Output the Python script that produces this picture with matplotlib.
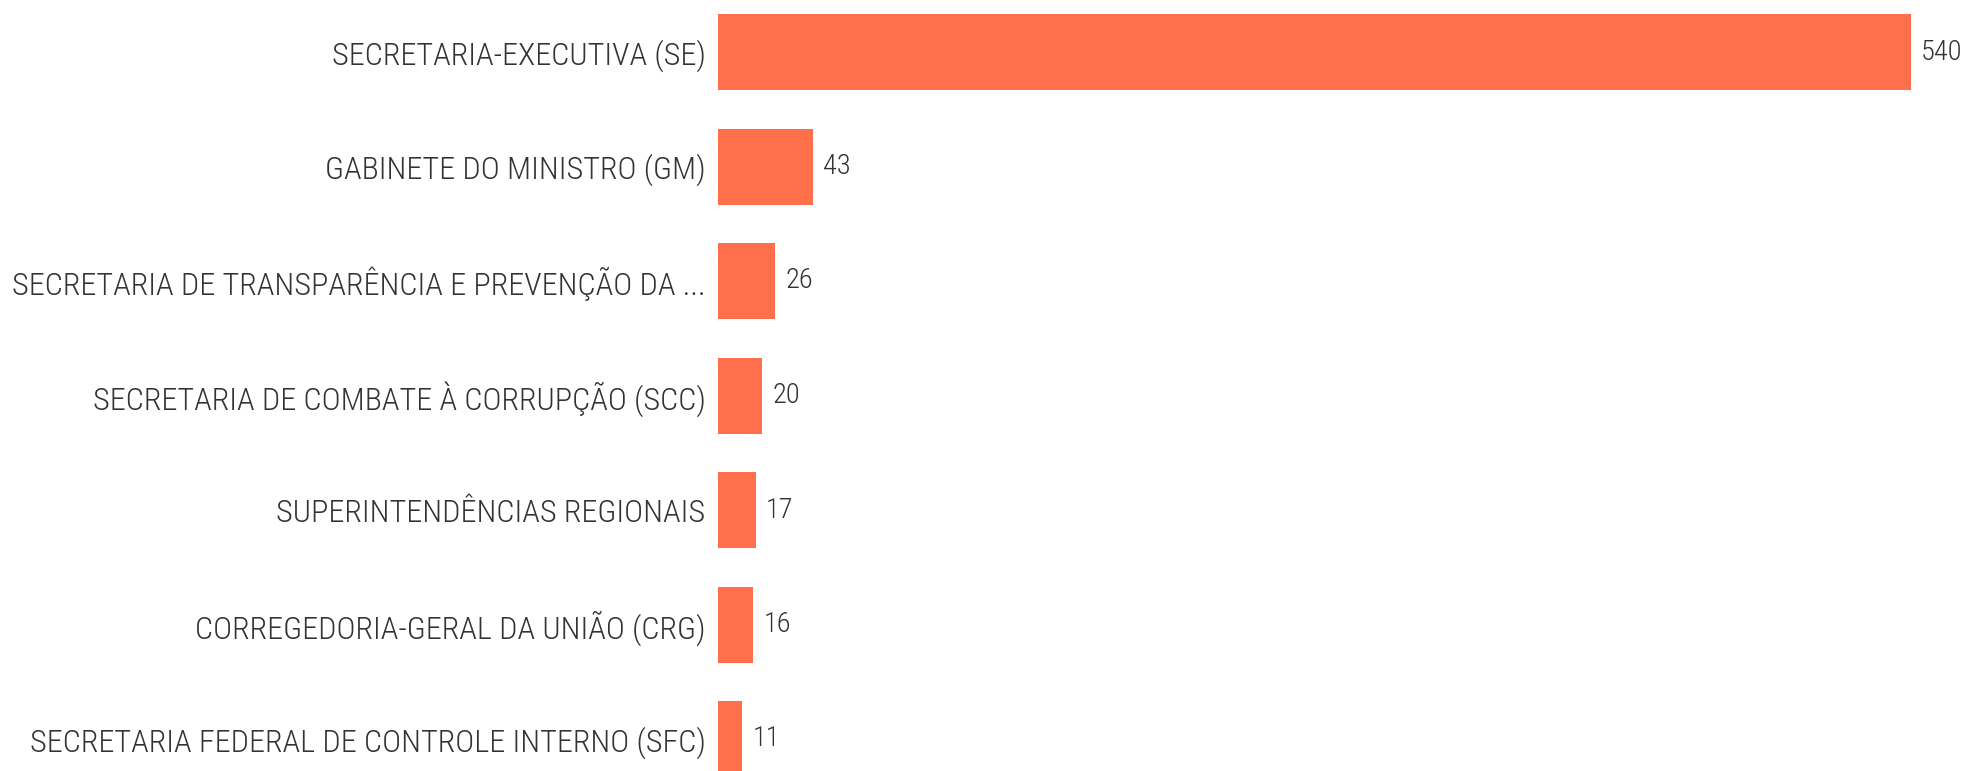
import matplotlib
matplotlib.use('Agg')
import matplotlib.pyplot as plt

# ── data ──────────────────────────────────────────────────────────────────────
categories = [
    'SECRETARIA-EXECUTIVA (SE)',
    'GABINETE DO MINISTRO (GM)',
    'SECRETARIA DE TRANSPARÊNCIA E PREVENÇÃO DA ...',
    'SECRETARIA DE COMBATE À CORRUPÇÃO (SCC)',
    'SUPERINTENDÊNCIAS REGIONAIS',
    'CORREGEDORIA-GERAL DA UNIÃO (CRG)',
    'SECRETARIA FEDERAL DE CONTROLE INTERNO (SFC)',
]
values = [540, 43, 26, 20, 17, 16, 11]

BAR_COLOR = '#FF6F4B'
TEXT_COLOR = '#333333'
FAMILY = ['Roboto Condensed', 'DejaVu Sans']

W, H, DPI = 1973, 771, 100
fig = plt.figure(figsize=(W / DPI, H / DPI), dpi=DPI)
fig.patch.set_facecolor('white')

x0 = 718          # pixel where bars start
px_per_unit = (1911 - x0) / 540
ax = fig.add_axes([x0 / W, 0, 1 - x0 / W, 1])
ax.set_xlim(0, (W - x0) / px_per_unit)

step = 114.5      # pixels between bar centres
first = 52
ax.set_ylim((H - first) / step, -first / step)

ypos = list(range(len(values)))
ax.barh(ypos, values, height=76 / step, color=BAR_COLOR, edgecolor='none')

for y, v in zip(ypos, values):
    ax.text(v + 10 / px_per_unit, y, f'{v}', va='center', ha='left',
            fontsize=20.5, color=TEXT_COLOR, family=FAMILY, weight='light')

ax.set_yticks(ypos)
ax.set_yticklabels(categories, family=FAMILY, fontsize=23.1, color=TEXT_COLOR,
                   weight='light')
ax.tick_params(axis='y', length=0, pad=9)
ax.set_xticks([])
for s in ax.spines.values():
    s.set_visible(False)

fig.savefig('out.png', dpi=DPI, facecolor='white')
